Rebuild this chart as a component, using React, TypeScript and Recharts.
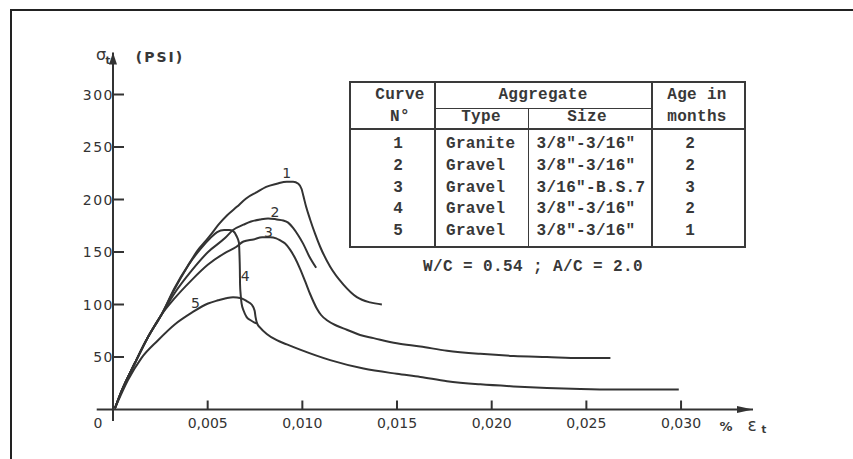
import React from "react";
import { LineChart, Line, XAxis, YAxis, ReferenceLine, ReferenceDot } from "recharts";

// strain (%) / stress (psi) pairs
const curve1: [number, number][] = [
  [0.0001, 1], [0.00044, 17], [0.00115, 44], [0.00185, 69], [0.00255, 90], [0.00326, 115],
  [0.00396, 137], [0.00449, 152], [0.00492, 161], [0.00523, 168], [0.00557, 176], [0.00603, 185],
  [0.00654, 193], [0.00703, 201], [0.0076, 207], [0.00809, 212], [0.00865, 215], [0.00918, 217],
  [0.00951, 217], [0.00979, 215], [0.00996, 210], [0.01006, 203], [0.0102, 193], [0.01041, 181],
  [0.01068, 167], [0.01094, 155], [0.01147, 136], [0.01217, 119], [0.01288, 107], [0.01358, 102],
  [0.0142, 100],
];
const curve2: [number, number][] = [
  [0.0001, 1], [0.00044, 17], [0.00115, 44], [0.00185, 69], [0.00255, 90], [0.00326, 111],
  [0.00414, 132], [0.00502, 150], [0.0059, 163], [0.00634, 171], [0.00689, 176], [0.00729, 179],
  [0.00777, 181], [0.00819, 182], [0.00865, 181], [0.00899, 180], [0.00925, 178], [0.00951, 173],
  [0.00978, 166], [0.01004, 158], [0.01036, 146], [0.01073, 135],
];
const curve3: [number, number][] = [
  [0.0001, 1], [0.00044, 17], [0.00115, 44], [0.00185, 69], [0.00255, 90], [0.00326, 106],
  [0.00414, 123], [0.00502, 138], [0.0059, 149], [0.00652, 155], [0.00689, 160], [0.00742, 162],
  [0.00788, 164], [0.0083, 164], [0.00862, 163], [0.00883, 161], [0.00909, 158], [0.00936, 152],
  [0.00962, 144], [0.00988, 134], [0.01015, 122], [0.01041, 110], [0.01077, 96], [0.01099, 90],
  [0.0113, 85], [0.01179, 80], [0.01235, 76], [0.01305, 71], [0.01376, 68], [0.01499, 63],
  [0.01623, 60], [0.01764, 56], [0.0194, 53], [0.02116, 51], [0.02292, 50], [0.02468, 49],
  [0.02627, 49],
];
const curve4: [number, number][] = [
  [0.0001, 1], [0.00044, 17], [0.00115, 44], [0.00185, 69], [0.00255, 90], [0.00326, 116],
  [0.00396, 137], [0.00467, 154], [0.00513, 163], [0.0055, 169], [0.00587, 171], [0.00613, 171],
  [0.00634, 170], [0.00653, 165], [0.00665, 159], [0.00668, 147], [0.0067, 133], [0.00671, 119],
  [0.00674, 110], [0.00679, 101], [0.0069, 94], [0.00706, 88], [0.00727, 85], [0.00745, 83],
  [0.00761, 82],
];
const curve5: [number, number][] = [
  [0.0001, 1], [0.00079, 28], [0.0015, 49], [0.00238, 66], [0.00326, 81], [0.00414, 92],
  [0.00502, 101], [0.00555, 104], [0.00597, 106], [0.00634, 107], [0.00677, 106], [0.00708, 103],
  [0.00732, 100], [0.00748, 94], [0.00753, 88], [0.00761, 82], [0.00777, 78], [0.00812, 72],
  [0.00865, 66], [0.00918, 62], [0.00988, 57], [0.01147, 47], [0.01323, 39], [0.01499, 34],
  [0.01623, 31], [0.01764, 27], [0.0194, 24], [0.02116, 22], [0.02292, 20.5], [0.02468, 19.5],
  [0.02644, 19], [0.02821, 19], [0.02988, 19],
];

const xTicks = [0, 0.005, 0.01, 0.015, 0.02, 0.025, 0.03];
const xTickLabels = ["0", "0,005", "0,010", "0,015", "0,020", "0,025", "0,030"];
const yTicks = [50, 100, 150, 200, 250, 300];

// curve numbers written next to the curves
const curveNames = ["1", "2", "3", "4", "5"];
const curveLabelX = [0.00918, 0.00856, 0.00821, 0.00698, 0.00435];
const curveLabelY = [225, 188, 169, 127, 101];

// legend table
const aggregateTypes = ["Granite", "Gravel", "Gravel", "Gravel", "Gravel"];
const aggregateSizes = ['3/8"-3/16"', '3/8"-3/16"', '3/16"-B.S.7', '3/8"-3/16"', '3/8"-3/16"'];
const agesInMonths = ["2", "2", "3", "2", "1"];

const X_MAX = 0.0338;
const Y_MAX = 340;
const INK = "#333";
const SANS = "'DejaVu Sans', sans-serif";
const MONO = "'Liberation Mono', monospace";

const toPoints = (c: [number, number][]) => c.map(([x, y]) => ({ x, y }));
const curves = [curve1, curve2, curve3, curve4, curve5].map(toPoints);

const XTick = (props: any) => {
  const { x, y, payload } = props;
  const v = payload.value;
  const label = xTickLabels[xTicks.indexOf(v)];
  if (v === 0) {
    return (
      <text x={x - 15} y={y + 18} textAnchor="middle" fontFamily={SANS} fontSize={14} fill={INK}>
        {label}
      </text>
    );
  }
  return (
    <g>
      <line x1={x} y1={y} x2={x} y2={y - 9} stroke={INK} strokeWidth={2} />
      <text x={x} y={y + 18} textAnchor="middle" fontFamily={SANS} fontSize={14} fill={INK}>
        {label}
      </text>
    </g>
  );
};

const YTick = (props: any) => {
  const { x, y, payload } = props;
  return (
    <g>
      <line x1={x} y1={y} x2={x + 11} y2={y} stroke={INK} strokeWidth={2} />
      <text x={x + 1} y={y + 5} textAnchor="end" fontFamily={SANS} fontSize={14} letterSpacing={1.5} fill={INK}>
        {payload.value}
      </text>
    </g>
  );
};

// absolutely placed text, centred (or left aligned) on a point of the page
const T = ({ x, y, size = 16, left = false, font = MONO, weight = 700, spacing = 0, children }: any) => (
  <span
    style={{
      position: "absolute",
      left: x,
      top: y,
      transform: left ? "translate(0,-50%)" : "translate(-50%,-50%)",
      fontFamily: font,
      fontSize: size,
      fontWeight: weight,
      letterSpacing: spacing,
      lineHeight: 1,
      whiteSpace: "nowrap",
      color: "#383838",
    }}
  >
    {children}
  </span>
);

const Rule = ({ x, y, w, h }: any) => (
  <div style={{ position: "absolute", left: x, top: y, width: w, height: h, background: "#3a3a3a" }} />
);

const LegendTable = () => {
  const rowY = [144, 166, 187.7, 209.3, 231];
  return (
    <>
      {/* frame and rules */}
      <Rule x={350} y={81} w={396} h={2} />
      <Rule x={350} y={246} w={396} h={2} />
      <Rule x={349} y={81} w={2} h={167} />
      <Rule x={744} y={81} w={2} h={167} />
      <Rule x={434} y={81} w={2} h={167} />
      <Rule x={651} y={81} w={2} h={167} />
      <Rule x={527.5} y={108} w={1.5} h={140} />
      <Rule x={435} y={107.5} w={217} h={1.5} />
      <Rule x={350} y={127.5} w={396} h={2} />
      <T x={400} y={95} spacing={0.3}>Curve</T>
      <T x={400} y={117} spacing={0.3}>N°</T>
      <T x={543} y={95} spacing={0.3}>Aggregate</T>
      <T x={481} y={117} spacing={0.3}>Type</T>
      <T x={587} y={117} spacing={0.3}>Size</T>
      <T x={697} y={95} spacing={0.3}>Age in</T>
      <T x={697} y={117} spacing={0.3}>months</T>
      {curveNames.map((n, i) => (
        <React.Fragment key={n}>
          <T x={398} y={rowY[i]}>{n}</T>
          <T x={446} y={rowY[i]} left spacing={0.3}>{aggregateTypes[i]}</T>
          <T x={536.5} y={rowY[i]} left spacing={0.3}>{aggregateSizes[i]}</T>
          <T x={690} y={rowY[i]}>{agesInMonths[i]}</T>
        </React.Fragment>
      ))}
      <T x={423} y={267} left spacing={0.4}>W/C = 0.54 ; A/C = 2.0</T>
    </>
  );
};

export default function App() {
  return (
    <div
      style={{
        position: "absolute",
        left: 0,
        top: 0,
        width: 853,
        height: 459,
        overflow: "hidden",
        background: "#fff",
      }}
    >
      {/* scan frame: only left and top edges are inside the picture */}
      <div
        style={{
          position: "absolute",
          left: 10,
          top: 9,
          width: 843,
          height: 450,
          borderLeft: "2px solid #222",
          borderTop: "2px solid #222",
          boxSizing: "border-box",
        }}
      />
      <div style={{ position: "absolute", left: 0, top: 0 }}>
        <LineChart width={853} height={459} margin={{ top: 52.5, right: 100, bottom: 19.5, left: 73 }}>
          <XAxis
            type="number"
            dataKey="x"
            domain={[0, X_MAX]}
            ticks={xTicks}
            interval={0}
            height={30}
            tickSize={0}
            tickMargin={0}
            tickLine={false}
            tick={<XTick />}
            axisLine={{ stroke: INK, strokeWidth: 2 }}
            allowDataOverflow
          />
          <YAxis
            type="number"
            domain={[0, Y_MAX]}
            ticks={yTicks}
            interval={0}
            width={40}
            tickSize={0}
            tickMargin={0}
            tickLine={false}
            tick={<YTick />}
            axisLine={{ stroke: INK, strokeWidth: 2 }}
            allowDataOverflow
          />
          <ReferenceLine
            segment={[{ x: -0.00086, y: 0 }, { x: 0, y: 0 }]}
            ifOverflow="visible"
            stroke={INK}
            strokeWidth={2}
          />
          <ReferenceLine
            segment={[{ x: 0, y: -11 }, { x: 0, y: 0 }]}
            ifOverflow="visible"
            stroke={INK}
            strokeWidth={2}
          />
          {curves.map((data, i) => (
            <Line
              key={curveNames[i]}
              data={data}
              dataKey="y"
              type="monotone"
              stroke={INK}
              strokeWidth={2}
              dot={false}
              activeDot={false}
              isAnimationActive={false}
            />
          ))}
          {curveNames.map((n, i) => (
            <ReferenceDot
              key={"lbl" + n}
              x={curveLabelX[i]}
              y={curveLabelY[i]}
              ifOverflow="visible"
              shape={(p: any) => (
                <text
                  x={p.cx}
                  y={p.cy}
                  textAnchor="middle"
                  dominantBaseline="central"
                  fontFamily={SANS}
                  fontSize={14}
                  fill={INK}
                >
                  {n}
                </text>
              )}
            />
          ))}
          <ReferenceDot
            x={X_MAX}
            y={0}
            ifOverflow="visible"
            shape={(p: any) => (
              <polygon
                points={`${p.cx},${p.cy} ${p.cx - 16},${p.cy - 3.5} ${p.cx - 16},${p.cy + 3.5}`}
                fill={INK}
              />
            )}
          />
          <ReferenceDot
            x={0}
            y={Y_MAX}
            ifOverflow="visible"
            shape={(p: any) => (
              <polygon
                points={`${p.cx},${p.cy} ${p.cx - 4},${p.cy + 12} ${p.cx + 4},${p.cy + 12}`}
                fill={INK}
              />
            )}
          />
        </LineChart>
      </div>
      {/* axis titles */}
      <T x={101} y={55} size={16} font={SANS} weight={400}>σ</T>
      <T x={108} y={61} size={10} font={SANS}>t</T>
      <T x={160} y={57} size={14} font={SANS} spacing={2}>(PSI)</T>
      <T x={726} y={426} size={13} font={SANS}>%</T>
      <T x={752} y={425} size={17} font={SANS} weight={400}>ε</T>
      <T x={764} y={430} size={10} font={SANS}>t</T>
      <LegendTable />
    </div>
  );
}
